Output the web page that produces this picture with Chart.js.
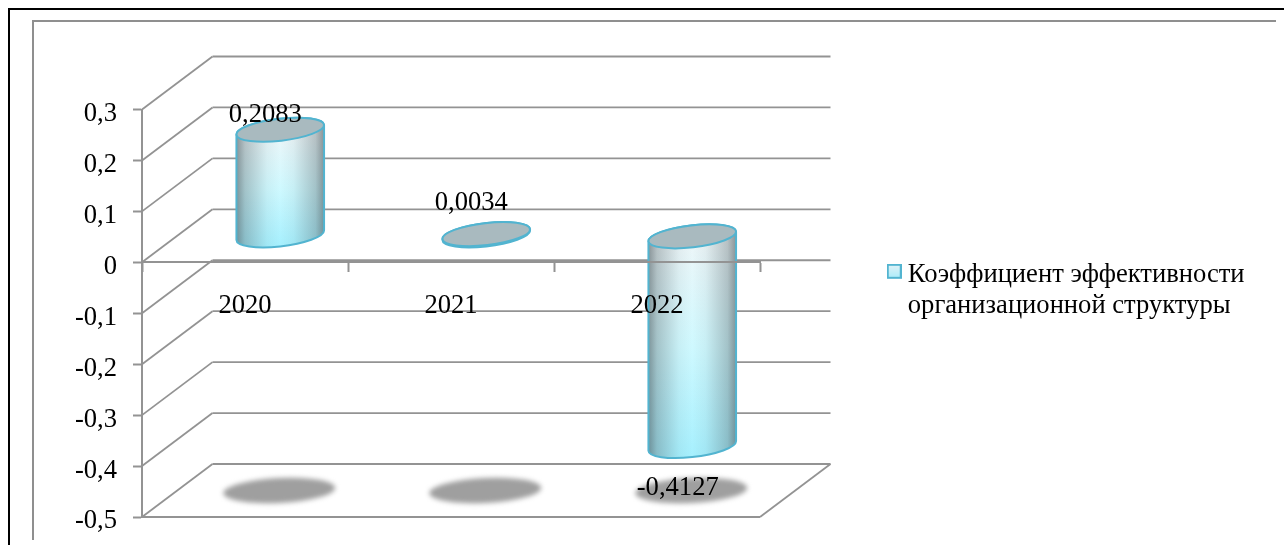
<!DOCTYPE html>
<html>
<head>
<meta charset="utf-8">
<title>Коэффициент эффективности</title>
<script src="https://cdn.jsdelivr.net/npm/chart.js@4"></script>
<style>
  html, body { margin: 0; background: #fff; overflow: hidden; }
  #page { position: relative; width: 1284px; height: 545px; }
  #outerFrame { position: absolute; left: 8px; top: 8px; right: 0; bottom: 0; border-left: 2px solid #000; border-top: 2px solid #000; }
  #innerFrame { position: absolute; left: 32px; top: 20px; width: 1244px; height: 520px; border-left: 2px solid #8f8f8f; border-top: 2px solid #8f8f8f; box-sizing: border-box; }
  canvas { position: absolute; left: 0; top: 0; }
</style>
</head>
<body>
<div id="page">
  <div id="outerFrame"></div>
  <div id="innerFrame"></div>
  <canvas id="chart" width="1284" height="545"></canvas>
</div>
<script>
const categories = ["2020", "2021", "2022"];
const seriesName = ["Коэффициент эффективности", "организационной структуры"];
const seriesValues = [0.2083, 0.0034, -0.4127];
const yMin = -0.5;
const yMax = 0.3;
const yStep = 0.1;

const serif = "'Liberation Serif', 'Times New Roman', serif";
const gridColor = "#939393";
const edgeColor = "#52b4d0";
// how far the back wall sits from the front plane
const depthX = 70.5;
const depthY = 53;
// the value labels were moved by hand in the original
const labelShift = [[-15, -15], [-15, -31], [-14.5, 42]];

function commaNumber(value) {
  return String(value).replace(".", ",");
}

// extra empty rows at the bottom lift the swatch a little next to the first text line
function makeSwatch() {
  const c = document.createElement("canvas");
  c.width = 15;
  c.height = 23;
  const g = c.getContext("2d");
  const fill = g.createLinearGradient(0, 0, 0, 15);
  fill.addColorStop(0, "#e4f3f7");
  fill.addColorStop(1, "#a8ecfa");
  g.fillStyle = fill;
  g.fillRect(1, 1, 13, 13);
  g.strokeStyle = edgeColor;
  g.lineWidth = 2;
  g.strokeRect(1, 1, 13, 13);
  return c;
}

function line(ctx, x1, y1, x2, y2) {
  ctx.beginPath();
  ctx.moveTo(x1, y1);
  ctx.lineTo(x2, y2);
  ctx.stroke();
}

const wallsPlugin = {
  id: "walls",
  afterLayout(chart) {
    const legend = chart.legend;
    legend.left = 884;
    legend.right = 1270;
    legend.top = 252;
    legend.bottom = 332;
    legend.adjustHitBoxes();
  },
  beforeDatasetsDraw(chart) {
    const { ctx, chartArea } = chart;
    const y = chart.scales.y;
    const bottom = y.getPixelForValue(yMin);
    ctx.save();
    ctx.strokeStyle = gridColor;
    ctx.lineWidth = 1.8;
    y.ticks.forEach(tick => {
      const py = y.getPixelForValue(tick.value);
      line(ctx, chartArea.left, py, chartArea.left + depthX, py - depthY);
      line(ctx, chartArea.left + depthX, py - depthY, chartArea.right + depthX, py - depthY);
    });
    // floor edges
    line(ctx, chartArea.left, bottom, chartArea.right, bottom);
    line(ctx, chartArea.right, bottom, chartArea.right + depthX, bottom - depthY);
    ctx.restore();
  },
  afterDatasetsDraw(chart) {
    const { ctx } = chart;
    const y = chart.scales.y;
    const bars = chart.getDatasetMeta(0).data;
    const floor = y.getPixelForValue(yMin) - depthY / 2;

    ctx.save();
    ctx.filter = "blur(2.5px)";
    ctx.fillStyle = "#9f9f9f";
    bars.forEach(bar => {
      ctx.beginPath();
      ctx.ellipse(bar.x + depthX / 2 - 1, floor, 56, 12.5, -0.05, 0, Math.PI * 2);
      ctx.fill();
    });
    ctx.restore();

    bars.forEach(bar => drawCylinder(ctx, bar));

    ctx.save();
    ctx.fillStyle = "#000";
    ctx.font = "26.6px " + serif;
    ctx.textAlign = "center";
    ctx.textBaseline = "middle";
    bars.forEach((bar, i) => {
      const top = Math.min(bar.y, bar.base) - depthY / 2;
      const anchor = seriesValues[i] < 0 ? Math.max(bar.y, bar.base) - depthY / 2 : top;
      ctx.fillText(commaNumber(seriesValues[i]), bar.x + depthX / 2 + labelShift[i][0], anchor + labelShift[i][1]);
    });
    ctx.restore();
  }
};

function drawCylinder(ctx, bar) {
  const cx = bar.x + depthX / 2;
  const topY = Math.min(bar.y, bar.base) - depthY / 2;
  const bottomY = Math.max(bar.y, bar.base) - depthY / 2;
  const rx = bar.width / 2;
  const ry = 11;
  const tilt = -0.115;
  // angle on the ellipse where its outline is vertical
  const side = Math.atan2(-ry * Math.sin(tilt), rx * Math.cos(tilt));

  ctx.save();
  ctx.beginPath();
  ctx.ellipse(cx, bottomY, rx, ry, tilt, side, side + Math.PI);
  ctx.ellipse(cx, topY, rx, ry, tilt, side + Math.PI, side + Math.PI * 2);
  ctx.closePath();

  const body = ctx.createLinearGradient(0, topY, 0, bottomY + ry);
  body.addColorStop(0, "#eef6f8");
  body.addColorStop(0.5, "#cff9ff");
  body.addColorStop(1, "#a6f0fe");
  ctx.fillStyle = body;
  ctx.fill();

  const shade = ctx.createLinearGradient(cx - rx, 0, cx + rx, 0);
  shade.addColorStop(0, "rgba(70,80,85,0.6)");
  shade.addColorStop(0.1, "rgba(70,80,85,0.32)");
  shade.addColorStop(0.35, "rgba(70,80,85,0.06)");
  shade.addColorStop(0.5, "rgba(70,80,85,0)");
  shade.addColorStop(0.65, "rgba(70,80,85,0.06)");
  shade.addColorStop(0.9, "rgba(70,80,85,0.32)");
  shade.addColorStop(1, "rgba(70,80,85,0.6)");
  ctx.fillStyle = shade;
  ctx.fill();

  ctx.strokeStyle = edgeColor;
  ctx.lineWidth = 2;
  ctx.stroke();

  ctx.beginPath();
  ctx.ellipse(cx, topY, rx, ry, tilt, 0, Math.PI * 2);
  ctx.fillStyle = "#a9babf";
  ctx.fill();
  ctx.stroke();
  ctx.restore();
}

const chart = new Chart(document.getElementById("chart"), {
  type: "bar",
  data: {
    labels: categories,
    datasets: [{
      label: seriesName.join(" "),
      data: seriesValues,
      backgroundColor: "rgba(0,0,0,0)",
      borderWidth: 0,
      barPercentage: 0.428,
      categoryPercentage: 1
    }]
  },
  options: {
    responsive: false,
    animation: false,
    layout: { padding: { left: 0, top: 109.5, right: 524, bottom: 28 } },
    plugins: {
      tooltip: { enabled: false },
      legend: {
        position: "chartArea",
        align: "start",
        onClick: null,
        labels: {
          usePointStyle: true,
          pointStyleWidth: 0.5,
          boxHeight: 14,
          padding: 10,
          color: "#000",
          font: { family: serif, size: 26.6, lineHeight: 1.17 },
          generateLabels: () => [{
            text: seriesName,
            pointStyle: makeSwatch(),
            fillStyle: "#fff",
            strokeStyle: edgeColor,
            lineWidth: 0,
            datasetIndex: 0
          }]
        }
      }
    },
    scales: {
      x: {
        position: { y: 0 },
        offset: true,
        grid: { offset: true, drawOnChartArea: false, tickLength: 9, tickColor: gridColor, tickWidth: 2 },
        border: { color: gridColor, width: 2, z: 1 },
        ticks: { color: "#000", padding: 18.5, z: 1, maxRotation: 0, font: { family: serif, size: 26.6 } }
      },
      y: {
        min: yMin,
        max: yMax,
        afterFit(scale) {
          scale.width = 142;
          scale.paddingTop = 0;
          scale.paddingBottom = 0;
        },
        grid: { drawOnChartArea: false, tickLength: 9, tickColor: gridColor, tickWidth: 2 },
        border: { color: gridColor, width: 2 },
        ticks: {
          stepSize: yStep,
          color: "#000",
          padding: 16,
          labelOffset: 4.5,
          font: { family: serif, size: 26.6 },
          callback: value => commaNumber(Number(value.toFixed(1)))
        }
      }
    }
  },
  plugins: [wallsPlugin]
});
</script>
</body>
</html>
